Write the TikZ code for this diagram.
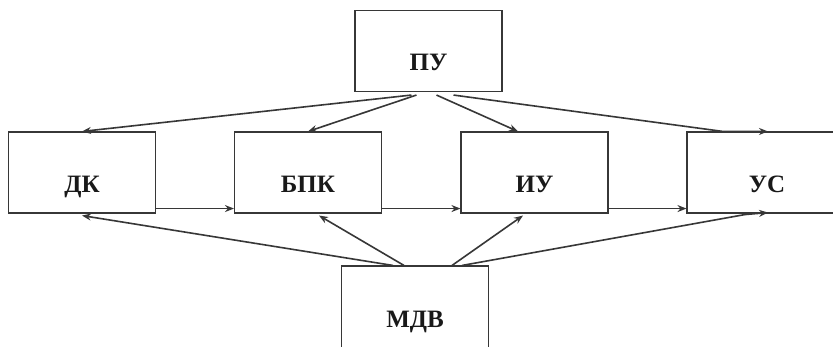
\documentclass[tikz,border=0pt]{standalone}
\usepackage{fontspec}
\setmainfont{Liberation Serif}
\usetikzlibrary{arrows.meta}
\definecolor{ln}{RGB}{55,55,55}
\definecolor{tx}{RGB}{25,25,25}
\tikzset{
  blk/.style={draw=ln, line width=1.1pt, minimum width=147pt, minimum height=81pt,
    inner sep=0pt, text height=39pt, text depth=0pt, text=tx,
    font=\fontsize{25}{30}\selectfont\bfseries},
  conn/.style={draw=ln, line width=1.6pt, -{Stealth[length=9pt,width=7pt]}}
}
\begin{document}
\begin{tikzpicture}[x=1pt,y=-1pt]
\clip (0,0) rectangle (833,346);
\fill[white] (0,0) rectangle (833,346);
\node[blk] (PU)  at (428.5,51)   {ПУ};
\node[blk] (DK)  at (82,172.5)   {ДК};
\node[blk] (BPK) at (308,172.5)  {БПК};
\node[blk] (IU)  at (534.5,172.5){ИУ};
\node[blk, minimum width=160pt] (US)  at (767,172.5){УС};
\node[blk, minimum height=90pt, text height=32pt] (MDV) at (415,311)  {МДВ};
% from PU
\draw[conn] ([xshift=-17pt,yshift=-3pt]PU.south) -- (DK.north);
\draw[conn] ([xshift=-12pt,yshift=-3pt]PU.south) -- (BPK.north);
\draw[conn] ([xshift=8pt,yshift=-3pt]PU.south) -- ([xshift=-16.5pt]IU.north);
\draw[conn] ([xshift=25pt,yshift=-3pt]PU.south) -- ([xshift=-44pt]US.north) -- ([xshift=1pt]US.north);
% horizontal chain
\draw[conn] ([yshift=5pt]DK.south east) -- ([yshift=5pt]BPK.south west);
\draw[conn] ([yshift=5pt]BPK.south east) -- ([yshift=5pt]IU.south west);
\draw[conn] ([yshift=5pt]IU.south east) -- ([yshift=5pt]US.south west);
% from MDV
\draw[conn] ([xshift=-22pt]MDV.north) -- ([yshift=-2pt]DK.south);
\draw[conn] ([xshift=-11pt]MDV.north) -- ([xshift=11pt,yshift=-2pt]BPK.south);
\draw[conn] ([xshift=37pt]MDV.north) -- ([xshift=-11.5pt,yshift=-2pt]IU.south);
\draw[conn] ([xshift=47pt]MDV.north) -- ([xshift=-22pt,yshift=-1pt]US.south) -- ([xshift=1pt,yshift=1pt]US.south);
\end{tikzpicture}
\end{document}
